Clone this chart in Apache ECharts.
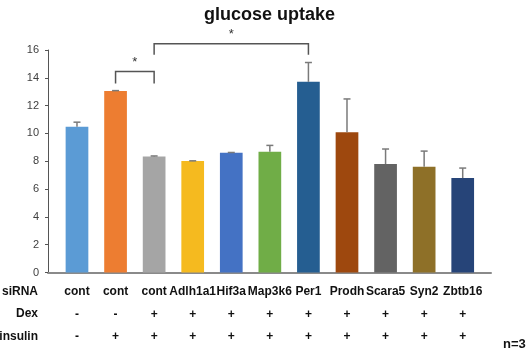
<!DOCTYPE html>
<html><head><meta charset="utf-8">
<script src="https://cdn.jsdelivr.net/npm/echarts@6/dist/echarts.min.js"></script>
<style>html,body{margin:0;padding:0;background:#fff}#c{width:527px;height:356px}</style>
</head><body><div id="c"></div>
<script>
// ---- data ----
var siRNA   = ['cont','cont','cont','Adlh1a1','Hif3a','Map3k6','Per1','Prodh','Scara5','Syn2','Zbtb16'];
var dex     = ['-','-','+','+','+','+','+','+','+','+','+'];
var insulin = ['-','+','+','+','+','+','+','+','+','+','+'];
var values  = [10.48, 13.05, 8.35, 8.01, 8.61, 8.68, 13.71, 10.08, 7.80, 7.60, 6.79];
var errors  = [0.33, 0.03, 0.03, 0.02, 0.02, 0.46, 1.39, 2.40, 1.08, 1.13, 0.72];
var yTicks  = [0, 16, 2];
var rowHeaders = ['siRNA', 'Dex', 'insulin'];
// significance brackets: [fromIndex, toIndex, legBottom, top, label]
var brackets = [[1, 2, 13.6, 14.45, '*'], [2, 6, 15.65, 16.45, '*']];
// ---- styles ----
var colors = ['#5B9BD5','#ED7D31','#A5A5A5','#F5BA1F','#4472C4','#70AD47','#255E91','#9E480E','#636363','#8E7028','#264478'];
var FONT = 'Liberation Sans, Arial, sans-serif';

var chart = echarts.init(document.getElementById('c'));
var catLabels = siRNA.map(function (s, i) { return s + '\n' + dex[i] + '\n' + insulin[i]; });

var option = {
  animation: false,
  title: { text: 'glucose uptake', left: 199, top: 1,
    textStyle: { fontFamily: FONT, fontWeight: 'bold', fontSize: 18, color: '#111' } },
  grid: [
    { left: 48, width: 443, top: 50, height: 222.5, containLabel: false },
    { left: 57.7, width: 424.3, top: 50, height: 222.5, containLabel: false }
  ],
  xAxis: [
    { type: 'value', gridIndex: 0, min: 0, max: 1, splitLine: { show: false },
      axisLabel: { show: false }, axisTick: { show: false },
      axisLine: { show: true, lineStyle: { color: '#8a8a8a', width: 2 } } },
    { type: 'category', gridIndex: 1, data: catLabels,
      axisLine: { show: false }, axisTick: { show: false },
      axisLabel: { interval: 0, margin: 8, fontFamily: FONT, fontWeight: 'bold', fontSize: 12,
        color: '#111', lineHeight: 22.5 } }
  ],
  yAxis: [
    { type: 'value', gridIndex: 0, min: yTicks[0], max: yTicks[1], interval: yTicks[2],
      splitLine: { show: false },
      axisLine: { show: true, lineStyle: { color: '#555', width: 1 } },
      axisTick: { show: true, length: 3, lineStyle: { color: '#555' } },
      axisLabel: { margin: 9, fontFamily: FONT, fontSize: 11, color: '#404040' } },
    { type: 'value', gridIndex: 1, min: yTicks[0], max: yTicks[1], interval: yTicks[2], show: false }
  ],
  series: [
    { type: 'bar', xAxisIndex: 1, yAxisIndex: 1, barWidth: 22.7,
      data: values.map(function (v, i) { return { value: v, itemStyle: { color: colors[i] } }; }) },
    { type: 'custom', xAxisIndex: 1, yAxisIndex: 1, z: 5,
      data: values.map(function (v, i) { return [i, v, errors[i]]; }),
      renderItem: function (params, api) {
        var i = api.value(0), v = api.value(1), e = api.value(2);
        var p0 = api.coord([i, v]), p1 = api.coord([i, v + e]);
        var st = { stroke: '#7a7a7a', lineWidth: 1.5 };
        return { type: 'group', children: [
          { type: 'line', shape: { x1: p0[0], y1: p0[1], x2: p1[0], y2: p1[1] }, style: st },
          { type: 'line', shape: { x1: p1[0] - 3.5, y1: p1[1], x2: p1[0] + 3.5, y2: p1[1] }, style: st }
        ] };
      } },
    { type: 'custom', xAxisIndex: 1, yAxisIndex: 1, z: 6, clip: false,
      data: brackets,
      renderItem: function (params, api) {
        var a = api.value(0), b = api.value(1), lo = api.value(2), hi = api.value(3);
        var pa = api.coord([a, lo]), pb = api.coord([b, lo]), ta = api.coord([a, hi]);
        return { type: 'group', children: [
          { type: 'polyline', shape: { points: [[pa[0], pa[1]], [pa[0], ta[1]], [pb[0], ta[1]], [pb[0], pb[1]]] },
            style: { stroke: '#555', lineWidth: 1.5, fill: null } },
          { type: 'text', style: { text: brackets[params.dataIndex][4], x: (pa[0] + pb[0]) / 2, y: ta[1] - 9,
            align: 'center', verticalAlign: 'middle', fontFamily: FONT, fontSize: 13, fill: '#333' } }
        ] };
      } }
  ],
  graphic: [
    { type: 'text', x: 38, y: 291.5, style: { text: rowHeaders[0], font: 'bold 12px ' + FONT, fill: '#111', align: 'right', verticalAlign: 'middle' } },
    { type: 'text', x: 38, y: 314, style: { text: rowHeaders[1], font: 'bold 12px ' + FONT, fill: '#111', align: 'right', verticalAlign: 'middle' } },
    { type: 'text', x: 38, y: 336.5, style: { text: rowHeaders[2], font: 'bold 12px ' + FONT, fill: '#111', align: 'right', verticalAlign: 'middle' } },
    { type: 'text', x: 503, y: 344, style: { text: 'n=3', font: 'bold 13px ' + FONT, fill: '#111', verticalAlign: 'middle' } }
  ]
};
chart.setOption(option);
</script></body></html>
